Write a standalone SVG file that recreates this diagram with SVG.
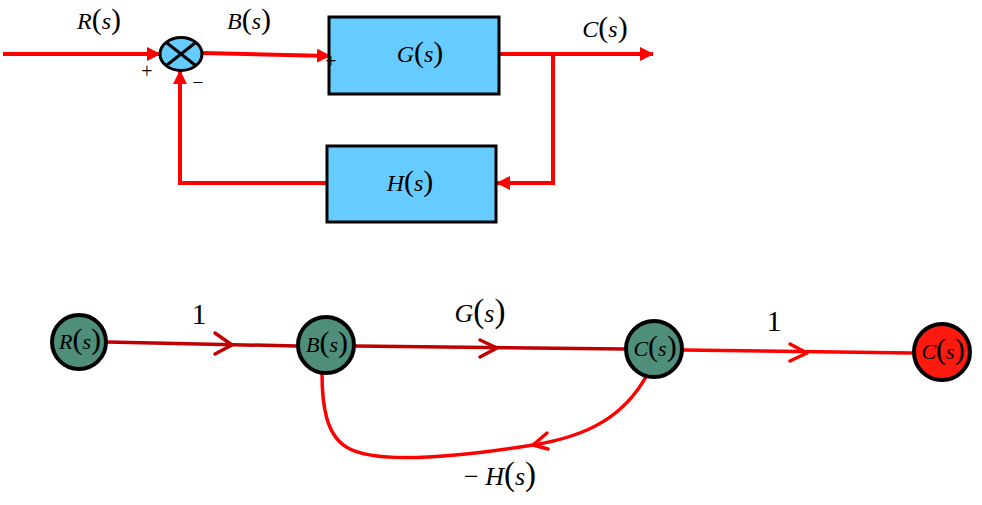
<svg xmlns="http://www.w3.org/2000/svg" width="982" height="505" viewBox="0 0 982 505">
<style>
.t{font-family:"Liberation Serif","Times New Roman",serif;font-size:24px;fill:#000}
.i{font-style:italic}
.p{font-size:30px}
.big{font-size:26px}
.big .p{font-size:33px}
.n{font-size:22px}
.n .p{font-size:30px}
.sg{font-size:20px}
.box{fill:#66CCFF;stroke:#000;stroke-width:3}
.w{fill:none;stroke:#FF0000;stroke-width:4}
.e{fill:none;stroke:#C00000;stroke-width:3.5}
.e2{fill:none;stroke:#FF0000;stroke-width:3.5}
.ch{fill:none;stroke-width:3.5;stroke-linecap:round;stroke-linejoin:round}
.node{fill:#4E8E7A;stroke:#000;stroke-width:4}
.out{fill:#FF1A0F;stroke:#000;stroke-width:4}
</style>
<defs>
<marker id="ah" markerUnits="userSpaceOnUse" markerWidth="14" markerHeight="14" refX="13" refY="7" orient="auto">
<path d="M0,0 L14,7 L0,14 z" fill="#FF0000"/>
</marker>
</defs>

<g id="connectors">
<path class="w" d="M3,54 L160,54" marker-end="url(#ah)"/>
<path class="w" d="M202,53 L330,56" marker-end="url(#ah)"/>
<path class="w" d="M499,54 L653,54" marker-end="url(#ah)"/>
<path class="w" d="M553,54 L553,183 L497,183" marker-end="url(#ah)"/>
<path class="w" d="M327,183 L180,183 L180,71" marker-end="url(#ah)"/>

<path class="e" d="M107,342 L297,346"/>
<path class="ch" stroke="#C00000" d="M215,333 L232,345 L215,354"/>
<path class="e" d="M355,346 L625,349"/>
<path class="ch" stroke="#C00000" d="M480,340 L497,348 L480,357"/>
<path class="e2" d="M683,350 L913,353"/>
<path class="ch" stroke="#FF0000" d="M790,344 L807,353 L790,361"/>
<path class="e2" d="M647,375 C625,415 590,436 533,445 C470,455 380,466 348,448 C326,436 322,405 322,373"/>
<path class="ch" stroke="#FF0000" d="M547,433 L533,445 L548,449"/>
</g>

<g id="sum">
<ellipse cx="181" cy="54" rx="21" ry="16.5" fill="#66CCFF" stroke="#000" stroke-width="3"/>
<path d="M166,42.3 L196,65.7 M196,42.3 L166,65.7" stroke="#000" stroke-width="3"/>
<text class="t sg" x="147" y="78" text-anchor="middle">+</text>
<text class="t sg" x="198" y="89" text-anchor="middle">−</text>
</g>

<g id="G">
<rect class="box" x="329" y="17" width="170" height="77"/>
<text class="t sg" x="331" y="68" text-anchor="middle">+</text>
<text class="t" x="420" y="62" text-anchor="middle"><tspan class="i">G</tspan><tspan class="p">(</tspan><tspan class="i">s</tspan><tspan class="p">)</tspan></text>
</g>

<g id="H">
<rect class="box" x="327" y="146" width="169" height="76"/>
<text class="t" x="410" y="191" text-anchor="middle"><tspan class="i">H</tspan><tspan class="p">(</tspan><tspan class="i">s</tspan><tspan class="p">)</tspan></text>
</g>

<g id="labels-top">
<text class="t" x="99" y="29" text-anchor="middle"><tspan class="i">R</tspan><tspan class="p">(</tspan><tspan class="i">s</tspan><tspan class="p">)</tspan></text>
<text class="t" x="249" y="29" text-anchor="middle"><tspan class="i">B</tspan><tspan class="p">(</tspan><tspan class="i">s</tspan><tspan class="p">)</tspan></text>
<text class="t" x="605" y="37" text-anchor="middle"><tspan class="i">C</tspan><tspan class="p">(</tspan><tspan class="i">s</tspan><tspan class="p">)</tspan></text>
</g>

<g id="nR">
<circle class="node" cx="79" cy="342" r="27"/>
<text class="t n" x="80" y="349" text-anchor="middle"><tspan class="i">R</tspan><tspan class="p">(</tspan><tspan class="i">s</tspan><tspan class="p">)</tspan></text>
</g>
<g id="nB">
<circle class="node" cx="326" cy="345" r="28"/>
<text class="t n" x="327" y="352" text-anchor="middle"><tspan class="i">B</tspan><tspan class="p">(</tspan><tspan class="i">s</tspan><tspan class="p">)</tspan></text>
</g>
<g id="nC">
<circle class="node" cx="654" cy="349" r="28"/>
<text class="t n" x="655" y="356" text-anchor="middle"><tspan class="i">C</tspan><tspan class="p">(</tspan><tspan class="i">s</tspan><tspan class="p">)</tspan></text>
</g>
<g id="nCout">
<circle class="out" cx="942" cy="352" r="28"/>
<text class="t n" x="943" y="359" text-anchor="middle"><tspan class="i">C</tspan><tspan class="p">(</tspan><tspan class="i">s</tspan><tspan class="p">)</tspan></text>
</g>

<g id="labels-bottom">
<text class="t" x="199" y="324" text-anchor="middle" style="font-size:30px">1</text>
<text class="t big" x="480" y="322" text-anchor="middle"><tspan class="i">G</tspan><tspan class="p">(</tspan><tspan class="i">s</tspan><tspan class="p">)</tspan></text>
<text class="t" x="774" y="331" text-anchor="middle" style="font-size:30px">1</text>
<text class="t big" x="500" y="485" text-anchor="middle">− <tspan class="i">H</tspan><tspan class="p">(</tspan><tspan class="i">s</tspan><tspan class="p">)</tspan></text>
</g>
</svg>
